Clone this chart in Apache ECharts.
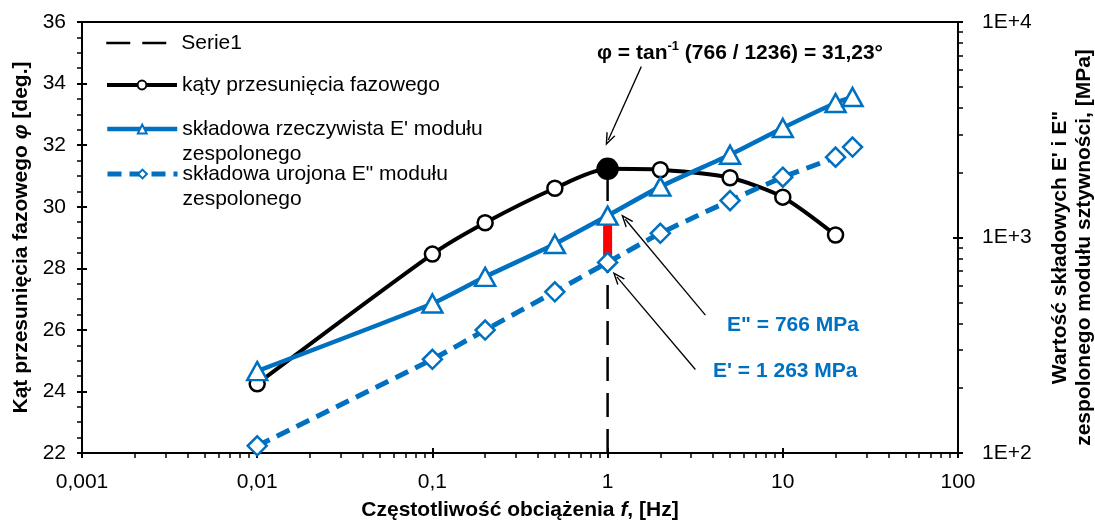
<!DOCTYPE html>
<html>
<head>
<meta charset="utf-8">
<script src="https://cdn.jsdelivr.net/npm/echarts@6/dist/echarts.min.js"></script>
<style>
  html, body { margin: 0; padding: 0; background: #fff; }
  #chart { width: 1095px; height: 521px; }
</style>
</head>
<body>
<div id="chart"></div>
<script>
// dane
const freq = [0.01, 0.1, 0.2, 0.5, 1, 2, 5, 10, 20, 25];
const phaseAngle = [24.25, 28.46, 29.48, 30.6, 31.23, 31.2, 30.94, 30.31, 29.08];
const storageMod = [240, 494, 657, 933, 1263, 1722, 2421, 3222, 4207, 4488];
const lossMod = [108, 272, 372, 560, 766, 1046, 1483, 1905, 2360, 2627];

// punkt odniesienia f = 1 Hz
const refFreq = 1;
const refPhase = 31.23;
const refLoss = 766;
const refStorage = 1263;

const xTickValues = [0.001, 0.01, 0.1, 1, 10, 100];
const xTickLabels = ["0,001", "0,01", "0,1", "1", "10", "100"];
const rightTickValues = [100, 1000, 10000];
const rightTickLabels = ["1E+2", "1E+3", "1E+4"];

// strzałki opisów: [start, koniec] w jednostkach osi
const arrowPhase = [[1.557, 34.55], [1.009, 32.17]];
const arrowLoss = [[3.616, 436], [1.262, 1215]];
const arrowStorage = [[3.17, 244], [1.13, 657]];

const FONT = "'Liberation Sans', Arial, sans-serif";
const BLUE = "#0070C0";

const serieName = "Serie1";
const phaseName = "kąty przesunięcia fazowego";
const storageName = "składowa rzeczywista E' modułu zespolonego";
const lossName = 'składowa urojona E" modułu zespolonego';

function pickLabel(values, labels, v) {
  let best = 0;
  values.forEach((t, i) => {
    if (Math.abs(Math.log10(t) - Math.log10(v)) < Math.abs(Math.log10(values[best]) - Math.log10(v))) best = i;
  });
  return labels[best];
}

const arrowHead = "path://M5,0 L10,12 L8.5,12 L5,3.6 L1.5,12 L0,12 Z";
function arrowLine(a) {
  return [{ coord: a[0] }, { coord: a[1] }];
}
const markLineBase = {
  silent: true,
  animation: false,
  symbol: ["none", arrowHead],
  symbolSize: [10, 13],
  label: { show: false },
  lineStyle: { color: "#000", width: 1.3, type: "solid" },
  emphasis: { disabled: true },
};

const LH = 25; // wysokość linii w legendzie
const legendBase = {
  left: 105,
  orient: "vertical",
  padding: 0,
  itemWidth: 70,
  itemHeight: 11,
  itemGap: 0,
  selectedMode: false,
  lineStyle: { width: "inherit" },
  textStyle: { fontFamily: FONT, fontSize: 21, color: "#000", lineHeight: LH },
};
// pusta linia na początku -> pierwsza linia tekstu na wysokości ikony
const wrapName = (n) => "\n" + n.replace(" zespolonego", "\nzespolonego");

const axisLineStyle = { color: "#000", width: 2 };
const labelStyle = { fontFamily: FONT, fontSize: 21, color: "#000" };
const tickStyle = { color: "#000", width: 2 };

// osie pomocnicze: tylko krótkie znaczniki do wewnątrz (znaczniki krzyżujące się z osią)
const innerTicks = {
  axisLine: { show: false },
  axisLabel: { show: false },
  axisTick: { show: true, inside: true, length: 5, lineStyle: tickStyle },
  minorTick: { show: false },
  splitLine: { show: false },
};

const chart = echarts.init(document.getElementById("chart"));

const options = {
  animation: false,
  backgroundColor: "#fff",
  grid: {
    left: 82,
    right: 137,
    top: 22,
    bottom: 68,
    outerBoundsMode: "none",
    show: true,
    borderColor: "#000",
    borderWidth: 2,
    backgroundColor: "transparent",
  },
  legend: [
    { ...legendBase, top: 43 - LH / 2, data: [serieName], itemStyle: { opacity: 0 } },
    { ...legendBase, top: 85 - LH / 2, data: [phaseName] },
    { ...legendBase, top: 129 - LH * 1.5, data: [storageName], formatter: wrapName },
    { ...legendBase, top: 174 - LH * 1.5, data: [lossName], formatter: wrapName },
  ],
  xAxis: [
    {
      type: "log",
      logBase: 10,
      min: 0.001,
      max: 100,
      position: "bottom",
      name: "{b|Częstotliwość obciążenia }{i|f}{b|, [Hz]}",
      nameLocation: "middle",
      nameGap: 47,
      nameTextStyle: {
        rich: {
          b: { fontFamily: FONT, fontSize: 21, fontWeight: "bold", color: "#000" },
          i: { fontFamily: FONT, fontSize: 21, fontWeight: "bold", fontStyle: "italic", color: "#000" },
        },
      },
      axisLine: { lineStyle: axisLineStyle },
      axisTick: { length: 5, lineStyle: tickStyle },
      minorTick: { show: true, splitNumber: 9, length: 5, lineStyle: { color: "#000", width: 1.5 } },
      splitLine: { show: false },
      axisLabel: {
        ...labelStyle,
        margin: 19,
        formatter: (v) => pickLabel(xTickValues, xTickLabels, v),
      },
    },
    { type: "log", logBase: 10, min: 0.001, max: 100, position: "bottom", ...innerTicks },
  ],
  yAxis: [
    {
      type: "value",
      position: "left",
      min: 22,
      max: 36,
      interval: 2,
      name: "{b|Kąt przesunięcia fazowego }{i|φ}{b| [deg.]}",
      nameLocation: "middle",
      nameGap: 47,
      nameTextStyle: {
        rich: {
          b: { fontFamily: FONT, fontSize: 21, fontWeight: "bold", color: "#000" },
          i: { fontFamily: FONT, fontSize: 21, fontWeight: "bold", fontStyle: "italic", color: "#000" },
        },
      },
      axisLine: { show: true, lineStyle: axisLineStyle },
      axisTick: { show: true, length: 5, lineStyle: tickStyle },
      minorTick: { show: true, splitNumber: 4, length: 5, lineStyle: { color: "#000", width: 1.5 } },
      splitLine: { show: false },
      axisLabel: { ...labelStyle, margin: 16 },
    },
    {
      type: "log",
      logBase: 10,
      position: "right",
      min: 100,
      max: 10000,
      name: "Wartość składowych E' i E\"\nzespolonego modułu sztywności, [MPa]",
      nameLocation: "middle",
      nameGap: 90,
      nameTextStyle: {
        fontFamily: FONT,
        fontSize: 21,
        fontWeight: "bold",
        color: "#000",
        lineHeight: 24,
        align: "center",
        padding: [0, 20, 0, 0], // lekkie przesunięcie w dół
      },
      axisLine: { show: true, lineStyle: axisLineStyle },
      axisTick: { show: true, length: 5, lineStyle: tickStyle },
      minorTick: { show: true, splitNumber: 9, length: 5, lineStyle: { color: "#000", width: 1.5 } },
      splitLine: { show: false },
      axisLabel: {
        ...labelStyle,
        margin: 24,
        formatter: (v) => pickLabel(rightTickValues, rightTickLabels, v),
      },
    },
    { type: "value", position: "left", min: 22, max: 36, interval: 2, ...innerTicks },
    { type: "log", logBase: 10, position: "right", min: 100, max: 10000, ...innerTicks },
  ],
  graphic: [
    {
      type: "text",
      x: 597,
      y: 53,
      style: {
        text: "{a|φ = tan}{s|-1}{a| (766 / 1236) = 31,23°}",
        verticalAlign: "middle",
        rich: {
          a: { fontFamily: FONT, fontSize: 21, fontWeight: "bold", fill: "#000", lineHeight: 26 },
          s: { fontFamily: FONT, fontSize: 13, fontWeight: "bold", fill: "#000", verticalAlign: "top", lineHeight: 26 },
        },
      },
    },
    {
      type: "text",
      x: 727,
      y: 325,
      style: { text: 'E" = 766 MPa', font: "bold 21px " + FONT, fill: BLUE, verticalAlign: "middle" },
    },
    {
      type: "text",
      x: 713,
      y: 371,
      style: { text: "E' = 1 263 MPa", font: "bold 21px " + FONT, fill: BLUE, verticalAlign: "middle" },
    },
  ],
  series: [
    {
      name: serieName,
      type: "line",
      yAxisIndex: 0,
      data: [[refFreq, 22], [refFreq, refPhase]],
      symbol: "none",
      color: "#000",
      lineStyle: { color: "#000", width: 2.5, type: [24, 12] },
      markLine: { ...markLineBase, data: [arrowLine(arrowPhase)] },
    },
    {
      name: phaseName,
      type: "line",
      yAxisIndex: 0,
      smooth: 0.25,
      data: phaseAngle.map((v, i) =>
        freq[i] === refFreq
          ? { value: [freq[i], v], symbolSize: 20, itemStyle: { color: "#000" } }
          : [freq[i], v]
      ),
      symbol: "circle",
      symbolSize: 15,
      itemStyle: { color: "#fff", borderColor: "#000", borderWidth: 2.5 },
      lineStyle: { color: "#000", width: 4 },
    },
    {
      name: "roznica",
      type: "line",
      yAxisIndex: 1,
      data: [[refFreq, refLoss], [refFreq, refStorage]],
      symbol: "none",
      lineStyle: { color: "#ff0000", width: 9 },
      markLine: { ...markLineBase, data: [arrowLine(arrowLoss), arrowLine(arrowStorage)] },
    },
    {
      name: lossName,
      type: "line",
      yAxisIndex: 1,
      smooth: 0.2,
      data: lossMod.map((v, i) => [freq[i], v]),
      symbol: "diamond",
      symbolSize: 19,
      itemStyle: { color: "#fff", borderColor: BLUE, borderWidth: 2.5 },
      lineStyle: { color: BLUE, width: 5, type: [14, 8] },
    },
    {
      name: storageName,
      type: "line",
      yAxisIndex: 1,
      smooth: 0.2,
      data: storageMod.map((v, i) => [freq[i], v]),
      symbol: "triangle",
      symbolSize: [20, 18],
      itemStyle: { color: "#fff", borderColor: BLUE, borderWidth: 2.5 },
      lineStyle: { color: BLUE, width: 4.5 },
    },
  ],
};

chart.setOption(options, true);
window.addEventListener("resize", () => chart && chart.resize());
</script>
</body>
</html>
